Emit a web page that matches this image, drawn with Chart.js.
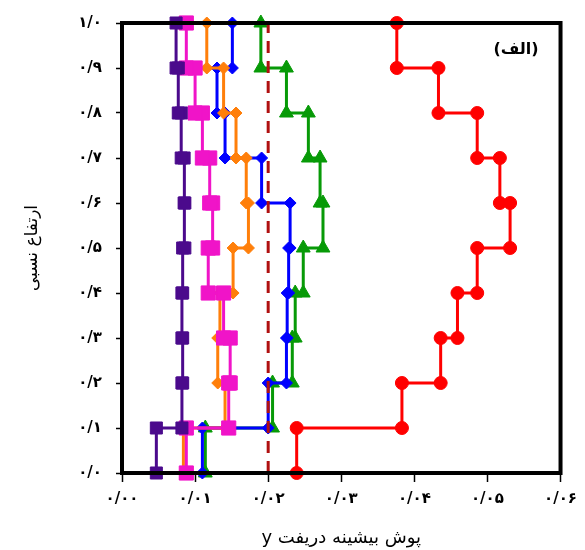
<!DOCTYPE html>
<html>
<head>
<meta charset="utf-8">
<script src="https://cdn.jsdelivr.net/npm/chart.js@4/dist/chart.umd.min.js"></script>
<style>
html,body{margin:0;padding:0;background:#fff;}
#wrap{width:585px;height:550px;}
</style>
</head>
<body>
<div id="wrap"><canvas id="c" width="585" height="550"></canvas></div>
<script>
// Story boundary levels (relative height)
const storyLevels = [0.0, 0.1, 0.2, 0.3, 0.4, 0.5, 0.6, 0.7, 0.8, 0.9, 1.0];
// Peak drift envelope per story (story 1 .. story 10)
const redDrift    = [0.0239, 0.0383, 0.0436, 0.0459, 0.0486, 0.0531, 0.0517, 0.0486, 0.0433, 0.0376];
const greenDrift  = [0.0114, 0.0206, 0.0233, 0.0237, 0.0248, 0.0275, 0.0271, 0.0255, 0.0225, 0.0190];
const blueDrift   = [0.0110, 0.0200, 0.0225, 0.0226, 0.0228, 0.0230, 0.0191, 0.0141, 0.0130, 0.0151];
const orangeDrift = [0.0084, 0.0141, 0.0131, 0.0134, 0.0152, 0.0173, 0.0170, 0.0156, 0.0139, 0.0116];
const pinkDrift   = [0.0088, 0.0146, 0.0148, 0.0139, 0.0118, 0.0124, 0.0120, 0.0110, 0.0100, 0.0088];
const purpleDrift = [0.0047, 0.0082, 0.0083, 0.0082, 0.0083, 0.0086, 0.0085, 0.0081, 0.0077, 0.0074];
// Allowable drift limit
const driftLimit = [0.02];
// Tick labels
const xTickLabels = ['۰/۰۰', '۰/۰۱', '۰/۰۲', '۰/۰۳', '۰/۰۴', '۰/۰۵', '۰/۰۶'];
const yTickLabels = ['۰/۰', '۰/۱', '۰/۲', '۰/۳', '۰/۴', '۰/۵', '۰/۶', '۰/۷', '۰/۸', '۰/۹', '۱/۰'];
const xTitle = '\u202Bپوش بیشینه دریفت y\u202C';
const yTitle = 'ارتفاع نسبی';
const panelLabel = '(الف)';

function stepPoints(vals) {
  const pts = [];
  for (let i = 0; i < vals.length; i++) {
    pts.push({x: vals[i], y: storyLevels[i]});
    pts.push({x: vals[i], y: storyLevels[i + 1]});
  }
  return pts;
}

function series(vals, color, style, radius) {
  return {
    data: stepPoints(vals),
    showLine: true,
    borderColor: color,
    backgroundColor: color,
    borderWidth: 3,
    pointStyle: style,
    pointRadius: radius,
    pointHoverRadius: radius,
    pointBorderWidth: 1,
    pointBorderColor: color,
    pointBackgroundColor: color,
    clip: false
  };
}

const limitLine = Object.assign(series(driftLimit, '#B01010', false, 0), {
  data: [{x: driftLimit[0], y: storyLevels[0]}, {x: driftLimit[0], y: storyLevels[storyLevels.length - 1]}],
  borderDash: [12, 8],
  borderWidth: 3
});

const datasets = [
  limitLine,
  series(purpleDrift, '#4B0A8C', 'rect', 8.5),
  series(pinkDrift, '#F014C8', 'rect', 10),
  series(orangeDrift, '#FF7F0A', 'rectRot', 6),
  series(blueDrift, '#0000FF', 'rectRot', 6),
  series(greenDrift, '#079A07', 'triangle', 8),
  series(redDrift, '#FF0000', 'circle', 6.5)
];

const framePlugin = {
  id: 'frame',
  afterDatasetsDraw(chart) {
    const a = chart.chartArea, ctx = chart.ctx;
    ctx.save();
    ctx.strokeStyle = '#000';
    ctx.lineWidth = 4;
    ctx.strokeRect(a.left, a.top, a.right - a.left, a.bottom - a.top);
    ctx.fillStyle = '#000';
    ctx.font = 'bold 16px "DejaVu Sans"';
    ctx.textAlign = 'center';
    ctx.textBaseline = 'middle';
    ctx.fillText(panelLabel, 516, 50);
    ctx.restore();
  }
};

new Chart(document.getElementById('c'), {
  type: 'scatter',
  data: {datasets},
  plugins: [framePlugin],
  options: {
    responsive: false,
    animation: false,
    events: [],
    layout: {padding: {top: 15, right: 23, left: 0, bottom: 0}},
    plugins: {legend: {display: false}, tooltip: {enabled: false}},
    scales: {
      x: {
        type: 'linear',
        min: 0, max: 0.06,
        afterFit(s) { s.height = 77; },
        border: {display: false},
        grid: {drawOnChartArea: false, drawTicks: true, tickLength: 9, tickWidth: 1.5, tickColor: '#000'},
        ticks: {
          stepSize: 0.01,
          padding: 8,
          color: '#000',
          font: {family: 'DejaVu Sans', size: 15, weight: 'bold'},
          maxRotation: 0,
          callback: (v) => xTickLabels[Math.round(v * 100)]
        },
        title: {
          display: true, text: xTitle, color: '#000',
          font: {family: 'DejaVu Sans', size: 18},
          padding: {top: 0, bottom: 1}
        }
      },
      y: {
        type: 'linear',
        min: 0, max: 1,
        afterFit(s) { s.width = 122; },
        border: {display: false},
        grid: {drawOnChartArea: false, drawTicks: true, tickLength: 6, tickWidth: 1.5, tickColor: '#000'},
        ticks: {
          stepSize: 0.1,
          padding: 14,
          color: '#000',
          font: {family: 'DejaVu Sans', size: 15, weight: 'bold'},
          callback: (v) => yTickLabels[Math.round(v * 10)]
        },
        title: {
          display: true, text: yTitle, color: '#000',
          font: {family: 'DejaVu Sans', size: 17},
          padding: {top: 22, bottom: 0}
        }
      }
    }
  }
});
</script>
</body>
</html>
